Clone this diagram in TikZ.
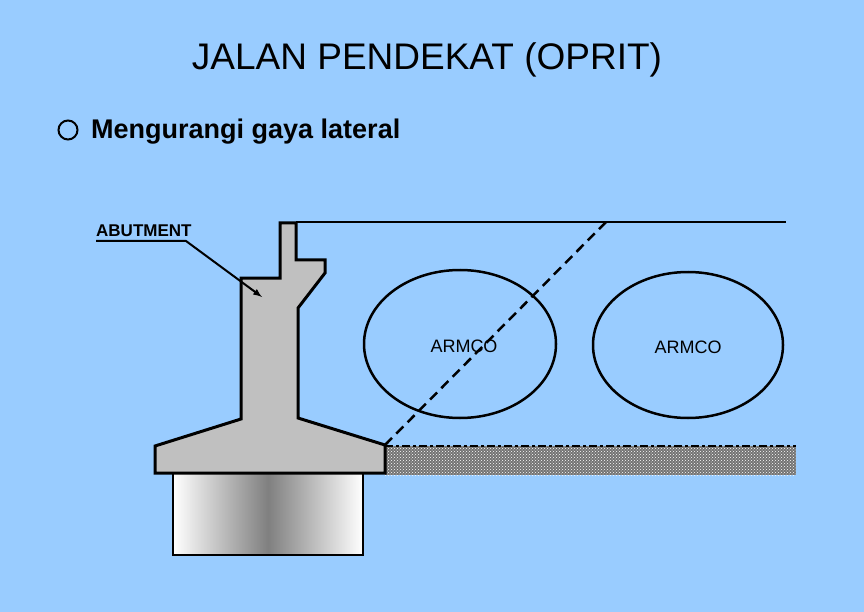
\documentclass[tikz,border=0pt]{standalone}
\usepackage{fontspec}
\setmainfont{Liberation Sans}
\usetikzlibrary{patterns}
\definecolor{bg}{HTML}{99CCFF}
\definecolor{conc}{HTML}{C0C0C0}
\tikzset{outl/.style={draw=black,line width=3pt,line join=miter},
lbl/.style={font=\fontsize{18}{20}\selectfont,inner sep=0pt}}
\begin{document}
\begin{tikzpicture}[x=1pt,y=-1pt]
\fill[bg] (0,0) rectangle (864,612);
\useasboundingbox (0,0) rectangle (864,612);
\node[inner sep=0pt,font=\fontsize{37}{40}\selectfont] (title) at (427,60) {JALAN PENDEKAT (OPRIT)};
\node[draw,line width=2pt,circle,minimum size=19pt,inner sep=0pt] (bul) at (68,130) {};
\node[anchor=west,inner sep=0pt,font=\bfseries\fontsize{27}{30}\selectfont] (pt) at (91,132) {Mengurangi gaya lateral};
% ground
\fill[black!55] (385,446) rectangle (796,475);
\fill[pattern=crosshatch dots,pattern color=white] (385,446) rectangle (796,475);
\draw[line width=2pt,dash pattern=on 8pt off 3pt on 3pt off 3pt] (385,446) -- (796,446);
% pile
\shade[left color=white,right color=white,middle color=black!50] (173,473) rectangle (363,555);
\draw[line width=2.5pt] (173,473) rectangle (363,555);
% abutment
\draw[outl,fill=conc] (280,223) -- (296,223) -- (296,260) -- (325,260) -- (325,273) -- (298,308) -- (298,418) -- (385,445) -- (385,473) -- (155,473) -- (155,446) -- (241,419) -- (241,278) -- (280,278) -- cycle;
\coordinate (rs) at (296,222);
\coordinate (re) at (786,222);
\draw[line width=2.5pt] (rs) -- (re);
\coordinate (d1) at (385,445);
\coordinate (d2) at (606,222);
\draw[line width=2.5pt,dash pattern=on 10pt off 6pt] (d1) -- (d2);
\draw[line width=2.5pt] (460,344) ellipse[x radius=96,y radius=74];
\draw[line width=2.5pt] (688,345) ellipse[x radius=95,y radius=73];
\node[lbl] (a1) at (464,346) {ARMCO};
\node[lbl] (a2) at (688,347) {ARMCO};
\node[lbl,font=\bfseries\fontsize{17}{18}\selectfont,anchor=south west] (ab) at (96,237) {ABUTMENT};
\coordinate (ar) at (262,297);
\draw[line width=2pt,-latex] (96,241) -- (186,241) -- (ar);
\end{tikzpicture}
\end{document}
